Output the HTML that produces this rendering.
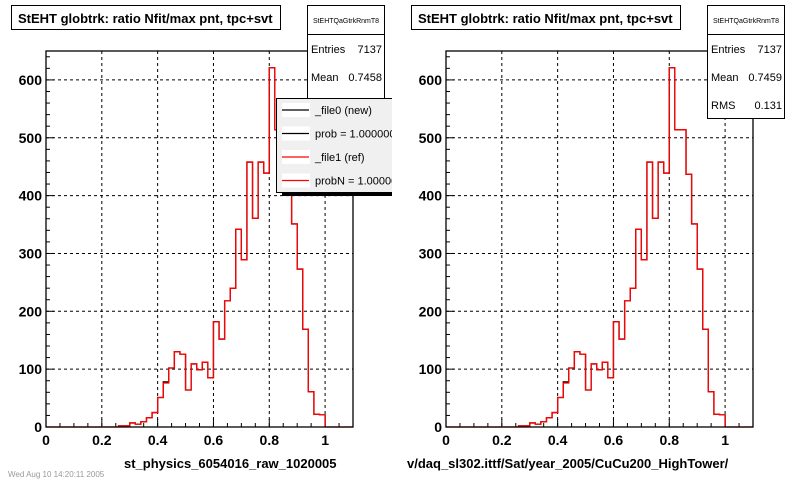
<!DOCTYPE html>
<html><head><meta charset="utf-8"><style>
body{margin:0;background:#fff;}
svg{display:block;font-family:"Liberation Sans",sans-serif;}
</style></head><body>
<svg id="c" width="800" height="480" viewBox="0 0 800 480">
<rect width="800" height="480" fill="#fff"/>
</svg>
<script>
const binEdgeStart = 0.26;
const binWidth = 0.02;
const refCounts = [2,2,7,5,9,16,25,51,76,102,130,126,64,109,99,112,85,182,152,218,240,342,289,458,361,458,439,621,514,514,437,351,273,169,61,22,21];
const newCounts = [2,2,7,5,9,16,25,51,78,102,130,126,64,109,99,112,85,182,152,218,240,342,289,458,361,458,439,621,514,514,437,351,273,169,61,22,21];
const xTickLabels = ["0","0.2","0.4","0.6","0.8","1"];
const xTickValues = [0,0.2,0.4,0.6,0.8,1];
const yTickLabels = ["0","100","200","300","400","500","600"];
const yTickValues = [0,100,200,300,400,500,600];
const statsLeft = [["Entries","7137"],["Mean","0.7458"]];
const statsRight = [["Entries","7137"],["Mean","0.7459"],["RMS","0.131"]];
const legendLabels = ["_file0 (new)","prob = 1.000000","_file1 (ref)","probN = 1.000000"];
const legendColors = ["#000","#000","#f00","#f00"];

const svg = document.getElementById('c');
const NS = 'http://www.w3.org/2000/svg';
function mk(tag, attrs, parent){const e=document.createElementNS(NS,tag);for(const k in attrs)e.setAttribute(k,attrs[k]);(parent||svg).appendChild(e);return e;}

function drawPad(ox, xTitle, xTitleX, stats, statsH, withLegend, side){
  const g = mk('g',{});
  
  
  const L=ox+46, R=ox+353, T=51, B=427;
  const sx = v => L + v*(R-L)/1.1;
  const sy = v => B - v*(B-T)/650;
  xTickValues.forEach(v=>{ if(v>0){const l=mk('line',{x1:sx(v),x2:sx(v),y1:T,y2:B,stroke:'#000','stroke-dasharray':'3,3','stroke-width':1},g);
    
    }});
  yTickValues.forEach(v=>{ if(v>0){const l=mk('line',{x1:L,x2:R,y1:sy(v),y2:sy(v),stroke:'#000','stroke-dasharray':'3,3','stroke-width':1},g);
    
    }});
  for(let v=0; v<=1.1001; v+=0.05){const maj=Math.abs(v*5-Math.round(v*5))<1e-6;
    mk('line',{x1:sx(v),x2:sx(v),y1:B,y2:B-(maj?8:4),stroke:'#000'},g);}
  for(let v=0; v<=650; v+=20){const maj=v%100===0;
    mk('line',{x1:L,x2:L+(maj?8:4),y1:sy(v),y2:sy(v),stroke:'#000'},g);}
  function hist(counts,color,name){
    let d='M'+sx(binEdgeStart)+','+sy(0);
    counts.forEach((c,i)=>{const x0=sx(binEdgeStart+i*binWidth),x1=sx(binEdgeStart+(i+1)*binWidth);d+=' L'+x0+','+sy(c)+' L'+x1+','+sy(c);});
    d+=' L'+sx(binEdgeStart+counts.length*binWidth)+','+sy(0);
    const p=mk('path',{d:d,fill:'none',stroke:color,'stroke-width':1.3},g);
    
    
  }
  mk('line',{x1:L,x2:sx(binEdgeStart),y1:sy(0),y2:sy(0),stroke:'#f00','stroke-width':1.3},g);
  mk('line',{x1:sx(binEdgeStart+refCounts.length*binWidth),x2:R,y1:sy(0),y2:sy(0),stroke:'#f00','stroke-width':1.3},g);
  hist(newCounts,'#000','histogram-new');
  hist(refCounts,'#f00','histogram-ref');
  mk('rect',{x:L,y:T,width:R-L,height:B-T,fill:'none',stroke:'#000','stroke-width':1.3},g);
  xTickValues.forEach((v,i)=>{const t=mk('text',{x:sx(v),y:445,'text-anchor':'middle','font-size':14,'font-weight':'bold'},g);t.textContent=xTickLabels[i];
    
    });
  yTickValues.forEach((v,i)=>{const t=mk('text',{x:L-4,y:sy(v)+5,'text-anchor':'end','font-size':14,'font-weight':'bold'},g);t.textContent=yTickLabels[i];
    
    });
  const xt=mk('text',{x:xTitleX,y:468,'font-size':13,'font-weight':'bold'},g);xt.textContent=xTitle;
  
  
  const tb=mk('rect',{x:ox+11.5,y:5.5,width:269,height:24,fill:'#fff',stroke:'#000'},g);
  
  
  const tt=mk('text',{x:ox+18,y:23,'font-size':13,'font-weight':'bold'},g);tt.textContent='StEHT globtrk: ratio Nfit/max pnt, tpc+svt';
  
  
  const sb=mk('rect',{x:ox+307.5,y:5.5,width:77,height:statsH,fill:'#fff',stroke:'#000'},g);
  
  
  mk('line',{x1:ox+307.5,x2:ox+384.5,y1:34.5,y2:34.5,stroke:'#000'},g);
  const sh=mk('text',{x:ox+346,y:23,'text-anchor':'middle','font-size':7},g);sh.textContent='StEHTQaGtrkRnmT8';
  stats.forEach((r,i)=>{const y=53+i*28;
    const a=mk('text',{x:ox+311,y:y,'font-size':11},g);a.textContent=r[0];
    
    
    const b=mk('text',{x:ox+382,y:y,'text-anchor':'end','font-size':11},g);b.textContent=r[1];
    
    });
  if(withLegend){
    const lg=mk('g',{},g);
    
    
    mk('rect',{x:282,y:103,width:120,height:93,fill:'#000'},lg);
    mk('rect',{x:276.5,y:98.5,width:120,height:94,fill:'#f0f0f0',stroke:'#000'},lg);
    legendLabels.forEach((lab,i)=>{const y=110+i*23.5;
      mk('rect',{x:282,y:y-7,width:28,height:14,fill:'#fff'},lg);
      mk('line',{x1:282,x2:309,y1:y,y2:y,stroke:legendColors[i],'stroke-width':1.3},lg);
      const t=mk('text',{x:315,y:y+4,'font-size':11},lg);t.textContent=lab;
      
      });
    mk('rect',{x:392,y:0,width:20,height:480,fill:'#fff'},g);
  }
}
drawPad(0,'st_physics_6054016_raw_1020005',124,statsLeft,120,true,'left');
drawPad(400,'v/daq_sl302.ittf/Sat/year_2005/CuCu200_HighTower/',407,statsRight,113,false,'right');
const ft=mk('text',{x:8,y:477,'font-size':8,fill:'#999'});ft.textContent='Wed Aug 10 14:20:11 2005';


</script>
</body></html>
